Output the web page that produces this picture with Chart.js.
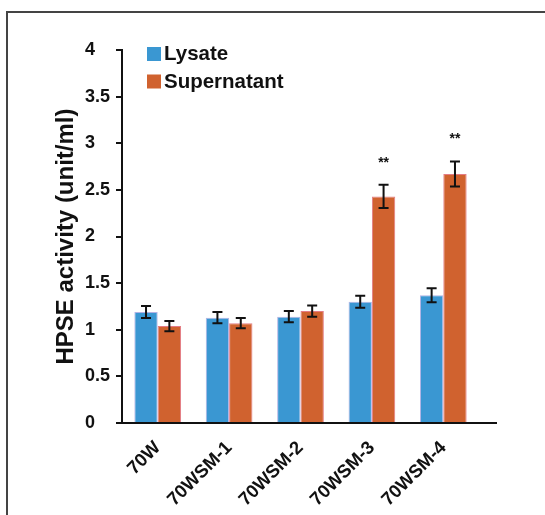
<!DOCTYPE html>
<html>
<head>
<meta charset="utf-8">
<script src="https://cdn.jsdelivr.net/npm/chart.js@4"></script>
<style>
  html, body { margin: 0; padding: 0; background: #fff; }
  #wrap { position: relative; width: 545px; height: 515px; overflow: hidden; }
  #frame { position: absolute; left: 6px; top: 11px; width: 600px; height: 600px;
           border-top: 2px solid #444; border-left: 2px solid #444; }
  #c { position: absolute; left: 0; top: 0; }
</style>
</head>
<body>
<div id="wrap">
  <div id="frame"></div>
  <canvas id="c" width="545" height="515"></canvas>
</div>
<script>
const categories = ['70W', '70WSM-1', '70WSM-2', '70WSM-3', '70WSM-4'];
const seriesNames = ['Lysate', 'Supernatant'];
const lysate = [1.19, 1.13, 1.14, 1.30, 1.37];
const lysateErr = [0.065, 0.06, 0.06, 0.065, 0.075];
const supernatant = [1.04, 1.07, 1.20, 2.43, 2.67];
const supernatantErr = [0.055, 0.055, 0.06, 0.125, 0.135];
const supernatantSig = ['', '', '', '**', '**'];
const yTicks = [0, 0.5, 1, 1.5, 2, 2.5, 3, 3.5, 4];
const yTitle = 'HPSE activity (unit/ml)';

const FONT = "'Liberation Sans', Arial, sans-serif";
const BLUE = '#3a97d2';
const ORANGE = '#d0622f';

const errors = [lysateErr, supernatantErr];
const sigs = [null, supernatantSig];

const extrasPlugin = {
  id: 'extras',
  afterDraw(chart) {
    const ctx = chart.ctx;
    const ca = chart.chartArea;
    const y = chart.scales.y;
    ctx.save();
    // x axis line (extends past the plot area)
    ctx.strokeStyle = '#111';
    ctx.lineWidth = 2;
    ctx.beginPath();
    ctx.moveTo(ca.left - 6, ca.bottom);
    ctx.lineTo(ca.right + 18, ca.bottom);
    ctx.stroke();
    // error bars and significance marks
    chart.data.datasets.forEach((ds, di) => {
      const meta = chart.getDatasetMeta(di);
      meta.data.forEach((bar, i) => {
        const v = ds.data[i];
        const e = errors[di][i];
        const yt = y.getPixelForValue(v + e);
        const yb = y.getPixelForValue(v - e);
        const cx = bar.x;
        ctx.strokeStyle = '#111';
        ctx.lineWidth = 2;
        ctx.beginPath();
        ctx.moveTo(cx, yt); ctx.lineTo(cx, yb);
        ctx.moveTo(cx - 5, yt); ctx.lineTo(cx + 5, yt);
        ctx.moveTo(cx - 5, yb); ctx.lineTo(cx + 5, yb);
        ctx.stroke();
        if (sigs[di] && sigs[di][i]) {
          ctx.fillStyle = '#111';
          ctx.font = 'bold 14px ' + FONT;
          ctx.textAlign = 'center';
          ctx.textBaseline = 'middle';
          ctx.fillText(sigs[di][i], cx, yt - 22);
        }
      });
    });
    // legend
    chart.data.datasets.forEach((ds, di) => {
      const ly = 47 + di * 27.5;
      ctx.fillStyle = ds.backgroundColor;
      ctx.fillRect(147, ly, 14, 14);
      ctx.fillStyle = '#111';
      ctx.font = 'bold 20.5px ' + FONT;
      ctx.textAlign = 'left';
      ctx.textBaseline = 'middle';
      ctx.fillText(ds.label, 164, ly + 7.5);
    });
    ctx.restore();
  }
};

new Chart(document.getElementById('c'), {
  type: 'bar',
  data: {
    labels: categories,
    datasets: [
      { label: seriesNames[0], data: lysate, backgroundColor: BLUE,
        borderColor: 'rgba(170,170,225,0.9)', borderWidth: 1 },
      { label: seriesNames[1], data: supernatant, backgroundColor: ORANGE,
        borderColor: 'rgba(225,110,120,0.9)', borderWidth: 1 }
    ]
  },
  options: {
    responsive: false,
    animation: false,
    devicePixelRatio: 1,
    categoryPercentage: 0.654,
    barPercentage: 1.0,
    layout: { padding: { left: 85, top: 50, right: 66, bottom: 0 } },
    plugins: { legend: { display: false }, tooltip: { enabled: false } },
    scales: {
      x: {
        grid: { display: false, drawTicks: false },
        border: { display: false },
        ticks: {
          minRotation: 45, maxRotation: 45, autoSkip: false,
          color: '#111', padding: 14,
          font: { family: FONT, size: 18.5, weight: 'bold' }
        },
        afterFit(s) { s.height = 92; }
      },
      y: {
        min: 0, max: 4,
        afterBuildTicks(s) { s.ticks = yTicks.map(v => ({ value: v })); },
        ticks: {
          color: '#111', padding: 0, crossAlign: 'far',
          font: { family: FONT, size: 18, weight: 'bold' },
          callback: v => String(v)
        },
        grid: { display: true, drawOnChartArea: false, drawTicks: true,
                tickLength: 6, color: '#111', lineWidth: 2 },
        border: { display: true, color: '#111', width: 2 },
        title: {
          display: true, text: yTitle, color: '#111',
          font: { family: FONT, size: 24, weight: 'bold' },
          padding: { top: -33, bottom: 0 }
        },
        afterFit(s) { s.width = 37; }
      }
    }
  },
  plugins: [extrasPlugin]
});
</script>
</body>
</html>
